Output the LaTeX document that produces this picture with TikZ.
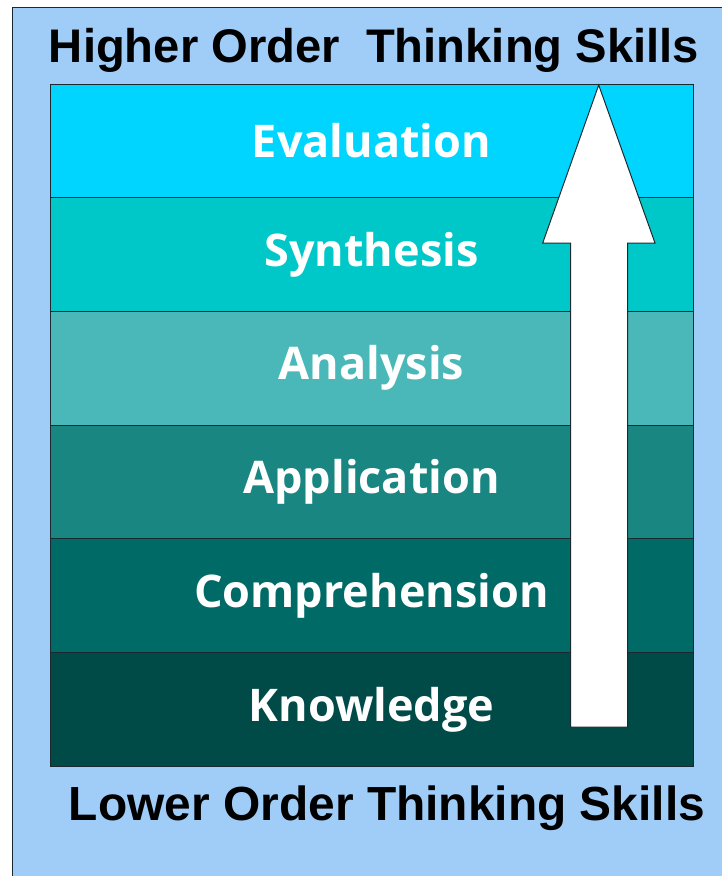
\documentclass[tikz,border=0pt]{standalone}
\usepackage{fontspec}
\newfontfamily\hdrfont{Liberation Sans}
\newfontfamily\lblfont{Open Sans}[Ligatures=NoCommon]
\definecolor{bgblue}{HTML}{A0CCF8}
\definecolor{cEval}{HTML}{00D5FF}
\definecolor{cSyn}{HTML}{00C8C8}
\definecolor{cAna}{HTML}{4AB8B8}
\definecolor{cApp}{HTML}{1A8682}
\definecolor{cCom}{HTML}{006B66}
\definecolor{cKno}{HTML}{004B48}
\definecolor{edge}{HTML}{1A2A30}
\begin{document}
\begin{tikzpicture}[x=1pt,y=-1pt,
  band/.style={draw=edge,line width=1pt,minimum width=643pt,minimum height=113.7pt,inner sep=0pt,outer sep=0pt,anchor=north west,
    font=\lblfont\bfseries\fontsize{45}{48}\selectfont,text=white},
  hdr/.style={font=\hdrfont\bfseries\fontsize{46}{50}\selectfont,text=black,inner sep=0pt}]
\useasboundingbox (0,0) rectangle (722,876);
\fill[white] (0,0) rectangle (722,876);
\begin{scope}
\clip (0,0) rectangle (722,876);
\draw[edge,fill=bgblue,line width=1pt] (12,7) rectangle (740,900);
\end{scope}
\node[band,fill=cEval] (eval) at (50,84) {Evaluation};
\node[band,fill=cSyn] (syn) at (50,197.7) {Synthesis};
\node[band,fill=cAna] (ana) at (50,311.4) {Analysis};
\node[band,fill=cApp] (app) at (50,425.1) {Application};
\node[band,fill=cCom] (com) at (50,538.8) {Comprehension};
\node[band,fill=cKno] (kno) at (50,652.5) {Knowledge};
\draw[edge,fill=white,line width=1pt,line join=miter]
  (598.7,85) -- (655,243) -- (627.7,243) -- (627.7,727) -- (570.7,727) -- (570.7,243) -- (542.7,243) -- cycle;
\node[hdr,anchor=base] (top) at (374,62) {\resizebox{650pt}{!}{Higher Order\ \ Thinking Skills}};
\node[hdr,anchor=base] (bottom) at (387,820) {\resizebox{636pt}{!}{Lower Order Thinking Skills}};
\end{tikzpicture}
\end{document}
